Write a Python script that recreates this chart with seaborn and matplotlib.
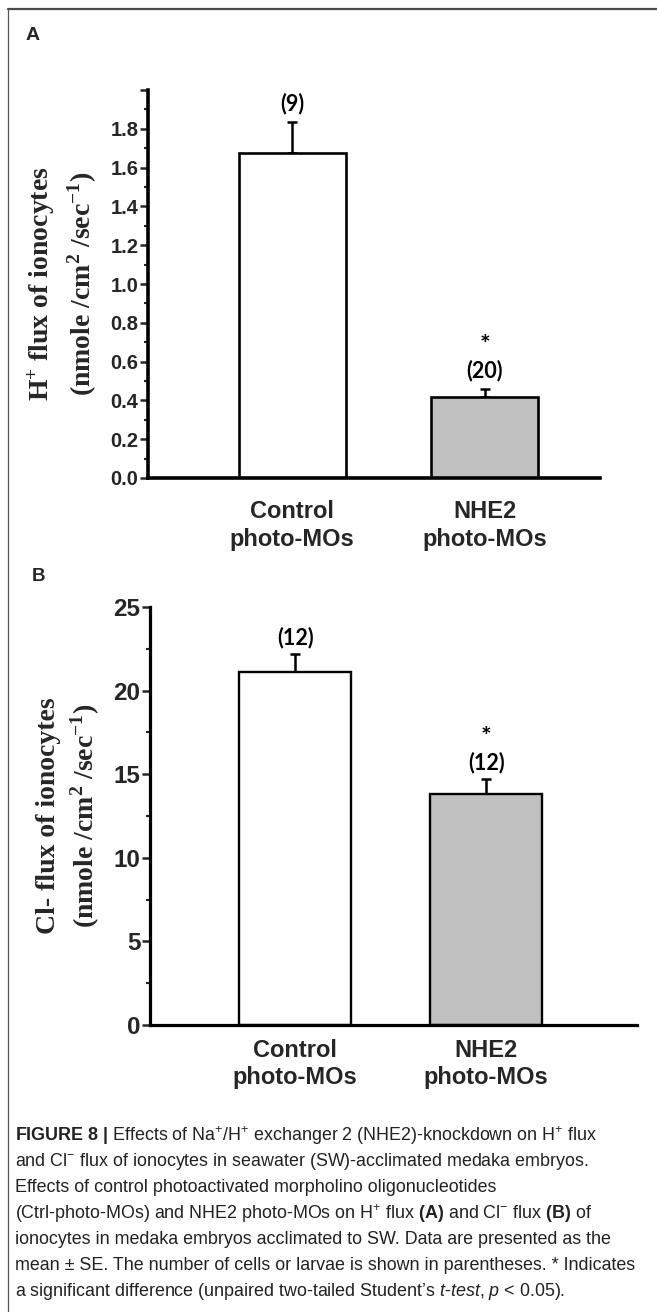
import matplotlib
matplotlib.use("Agg")
import matplotlib.pyplot as plt
import seaborn as sns
import pandas as pd
from matplotlib.lines import Line2D
from matplotlib.ticker import MultipleLocator, FixedLocator, FixedFormatter

# ---------------- data ----------------
groups = ["Control\nphoto-MOs", "NHE2\nphoto-MOs"]
bar_colors = ["#ffffff", "#c0c0c0"]

h_flux = [1.675, 0.42]
h_se = [0.16, 0.04]
h_n = ["(9)", "(20)"]
h_sig = ["", "*"]
h_yticks = [0.0, 0.2, 0.4, 0.6, 0.8, 1.0, 1.2, 1.4, 1.6, 1.8, 2.0]
h_yticklabels = ["0.0", "0.2", "0.4", "0.6", "0.8", "1.0", "1.2", "1.4", "1.6", "1.8", ""]

cl_flux = [21.1, 13.8]
cl_se = [1.1, 0.9]
cl_n = ["(12)", "(12)"]
cl_sig = ["", "*"]
cl_yticks = [0, 5, 10, 15, 20, 25]
cl_yticklabels = ["0", "5", "10", "15", "20", "25"]

h_ylabel = "H$^{\\mathsf{+}}$ flux of ionocytes\n(nmole /cm$^{\\mathsf{2}}$ /sec$^{\\mathsf{-1}}$)"
cl_ylabel = "Cl- flux of ionocytes\n(nmole /cm$^{\\mathsf{2}}$ /sec$^{\\mathsf{-1}}$)"

caption_lines = [
    r"$\mathbf{FIGURE\ 8\ |}$ Effects of Na$^{+}$/H$^{+}$ exchanger 2 (NHE2)-knockdown on H$^{+}$ flux",
    r"and Cl$^{-}$ flux of ionocytes in seawater (SW)-acclimated medaka embryos.",
    r"Effects of control photoactivated morpholino oligonucleotides",
    r"(Ctrl-photo-MOs) and NHE2 photo-MOs on H$^{+}$ flux $\mathbf{(A)}$ and Cl$^{-}$ flux $\mathbf{(B)}$ of",
    r"ionocytes in medaka embryos acclimated to SW. Data are presented as the",
    r"mean ± SE. The number of cells or larvae is shown in parentheses. * Indicates",
    r"a significant difference (unpaired two-tailed Student’s $\mathit{t}$-$\mathit{test}$, $\mathit{p}$ < 0.05).",
]

# ---------------- style ----------------
sns.set_style("white")
plt.rcParams["font.family"] = ["Liberation Sans", "DejaVu Sans"]
plt.rcParams["mathtext.fontset"] = "custom"
plt.rcParams["mathtext.rm"] = "Liberation Sans"
plt.rcParams["mathtext.it"] = "Liberation Sans:italic"
plt.rcParams["mathtext.bf"] = "Liberation Sans:bold"
plt.rcParams["mathtext.sf"] = "Liberation Serif:bold"

fig = plt.figure(figsize=(6.57, 13.12), dpi=100)
fig.patch.set_facecolor("white")

# frame lines (top and left)
fig.add_artist(Line2D([8/657, 1.0], [1 - 8.5/1312, 1 - 8.5/1312], transform=fig.transFigure,
                      color="#4a4a4a", lw=1.6))
fig.add_artist(Line2D([8/657, 8/657], [0, 1 - 8.5/1312], transform=fig.transFigure,
                      color="#555555", lw=0.9))


def panel(rect, values, errs, ns, sigs, width, xlim, ylim, yticks, yticklabels,
          minor, ylabel, label_x, tick_fs, xpad, n_off, sig_off, spine_lw, bar_lw):
    ax = fig.add_axes(rect)
    df = pd.DataFrame({"group": groups, "value": values})
    sns.barplot(data=df, x="group", y="value", hue="group", palette=bar_colors,
                width=width, edgecolor="black", linewidth=bar_lw, legend=False,
                errorbar=None, ax=ax, zorder=2)
    xs = list(range(len(values)))
    ax.errorbar(xs, values, yerr=[[0] * len(errs), errs], fmt="none", ecolor="black",
                elinewidth=1.8, capsize=3.6, capthick=1.8, zorder=1)
    for x, v, e, n, s in zip(xs, values, errs, ns, sigs):
        ax.annotate(n, xy=(x, v + e), xytext=(0, n_off), textcoords="offset points",
                    ha="center", va="center", fontsize=15.5, fontweight="bold",
                    family=["Lato", "DejaVu Sans"], color="black")
        if s:
            ax.annotate(s, xy=(x, v + e), xytext=(0, sig_off), textcoords="offset points",
                        ha="center", va="center", fontsize=18, fontweight="bold",
                        family=["Lato", "DejaVu Sans"], color="black")
    ax.set_xlim(*xlim)
    ax.set_ylim(*ylim)
    ax.yaxis.set_major_locator(FixedLocator(yticks))
    ax.yaxis.set_major_formatter(FixedFormatter(yticklabels))
    ax.yaxis.set_minor_locator(MultipleLocator(minor))
    ax.tick_params(axis="y", which="major", direction="out", length=5.5, width=1.8,
                   labelsize=tick_fs, pad=1.5, left=True)
    ax.tick_params(axis="y", which="minor", direction="out", length=3, width=1.5, left=True)
    ax.tick_params(axis="x", length=0, labelsize=17, pad=xpad)
    for lab in ax.get_yticklabels():
        lab.set_fontweight("bold")
    for lab in ax.get_xticklabels():
        lab.set_fontweight("bold")
        lab.set_linespacing(1.25)
    ax.set_xlabel("")
    ax.set_ylabel(ylabel, fontsize=20, fontweight="bold", family=["Liberation Serif"],
                  linespacing=1.3, va="center", ha="center")
    ax.yaxis.set_label_coords(label_x, 0.5)
    for side in ["top", "right"]:
        ax.spines[side].set_visible(False)
    for side in ["left", "bottom"]:
        ax.spines[side].set_linewidth(spine_lw)
        ax.spines[side].set_color("black")
    ax.set_facecolor("white")
    ax.grid(False)
    return ax


ax1 = panel([148/657, 1 - 478/1312, 452/657, 388/1312], h_flux, h_se, h_n, h_sig,
            width=0.555, xlim=(-0.75, 1.6), ylim=(0, 2.0), yticks=h_yticks,
            yticklabels=h_yticklabels, minor=0.1, ylabel=h_ylabel, label_x=-0.19,
            tick_fs=14.5, xpad=16, n_off=13.5, sig_off=31, spine_lw=2.6, bar_lw=1.9)

ax2 = panel([150/657, 1 - 1025/1312, 487/657, 418/1312], cl_flux, cl_se, cl_n, cl_sig,
            width=0.586, xlim=(-0.76, 1.79), ylim=(0, 25), yticks=cl_yticks,
            yticklabels=cl_yticklabels, minor=2.5, ylabel=cl_ylabel, label_x=-0.166,
            tick_fs=17.5, xpad=10, n_off=12, sig_off=30, spine_lw=2.3, bar_lw=1.7)

# panel letters
fig.text(26/657, 1 - 35/1312, "A", fontsize=14, fontweight="bold", ha="left", va="center")
fig.text(32/657, 1 - 577/1312, "B", fontsize=13.5, fontweight="bold", ha="left", va="center")

# caption
y0 = 1136
for i, line in enumerate(caption_lines):
    fig.text(15/657, 1 - (y0 + 26 * i)/1312, line, fontsize=12.9, color="#222222",
             ha="left", va="center")

fig.savefig("out.png", dpi=100, facecolor="white")
